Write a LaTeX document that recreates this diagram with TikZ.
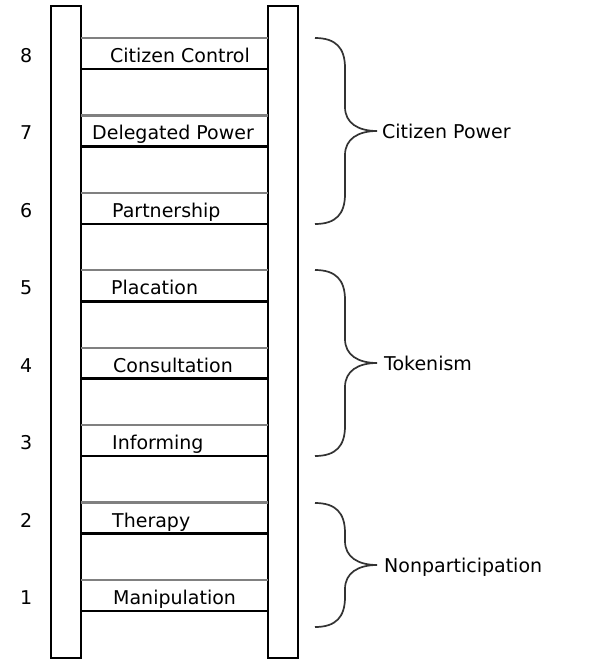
\documentclass[tikz,border=0pt]{standalone}
\usepackage{fontspec}
\setmainfont{DejaVu Sans}
\newcommand\mybrace[3]{% top, bottom, name
  \pgfmathsetmacro\ya{#1}\pgfmathsetmacro\yb{#2}%
  \pgfmathsetmacro\ym{(#1+#2)/2}%
  \pgfmathsetmacro\yaa{#1+30}\pgfmathsetmacro\ybb{#2-30}%
  \pgfmathsetmacro\yma{\ym-24}\pgfmathsetmacro\ymb{\ym+24}%
  \pgfmathsetmacro\ymc{\ym-8}\pgfmathsetmacro\ymd{\ym+8}%
  \pgfmathsetmacro\yae{#1+10}\pgfmathsetmacro\ybe{#2-10}%
  \draw[brace] (315,\ya) .. controls (336,\ya) and (345,\yae) .. (345,\yaa)
     -- (345,\yma) .. controls (345,\ymc) and (358,\ym) .. (377,\ym)
     .. controls (358,\ym) and (345,\ymd) .. (345,\ymb)
     -- (345,\ybb) .. controls (345,\ybe) and (336,\yb) .. (315,\yb);
  \coordinate (#3) at (377,\ym);}
\begin{document}
\begin{tikzpicture}[x=1pt,y=-1pt,
  rail/.style={draw=black, line width=2pt, fill=white},
  graybar/.style={draw=black!50, line width=2.2pt},
  blackbar/.style={draw=black, line width=2.6pt},
  lbl/.style={anchor=base west, inner sep=0pt, font=\fontsize{19}{22}\selectfont},
  brace/.style={draw=black!80, line width=1.7pt}]
\useasboundingbox (0,0) rectangle (589,665);
\draw[rail] (51,6) rectangle (81,658);
\draw[rail] (268,6) rectangle (298,658);
\foreach \k in {1,...,8}{
  \pgfmathsetmacro\g{38+77.43*(8-\k)}
  \pgfmathsetmacro\b{\g+31}
  \draw[graybar] (81,\g) -- (268,\g);
  \draw[blackbar] (81,\b) -- (268,\b);
}
\foreach \k/\t/\x in {8/Citizen Control/110, 7/Delegated Power/92, 6/Partnership/112, 5/Placation/111, 4/Consultation/113, 3/Informing/112, 2/Therapy/112, 1/Manipulation/113}{
  \pgfmathsetmacro\bl{38+77.43*(8-\k)+24.5}
  \node[lbl] (r\k) at (\x,\bl) {\t};
  \node[lbl] (n\k) at (20,\bl) {\k};
}
\mybrace{38}{224}{tcp}
\mybrace{270}{456}{ttk}
\mybrace{503}{627}{tnp}
\node[lbl] (cp) at ([shift={(5,7)}]tcp) {Citizen Power};
\node[lbl] (tk) at ([shift={(7,7)}]ttk) {Tokenism};
\node[lbl] (np) at ([shift={(7,7)}]tnp) {Nonparticipation};
\end{tikzpicture}
\end{document}
